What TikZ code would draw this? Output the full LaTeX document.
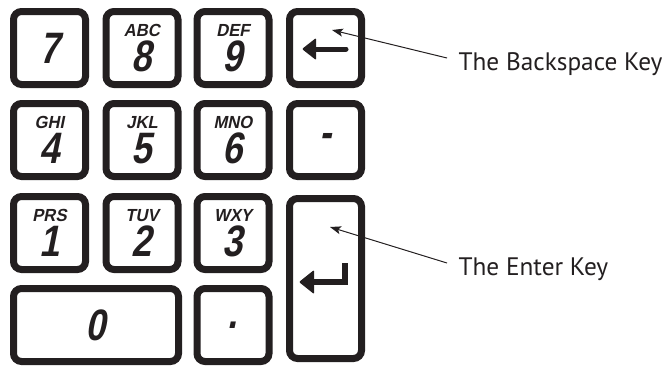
\documentclass[tikz,border=0pt]{standalone}
\usepackage{fontspec}
\setmainfont{PT Sans}
\newfontfamily\keyfont[FakeStretch=0.82,FakeSlant=0.2]{Liberation Sans}
\newfontfamily\abcfamily[FakeStretch=0.95,FakeSlant=0.2]{Liberation Sans}
\newcommand\abcfont{\abcfamily\bfseries\fontsize{17.5}{17.5}\selectfont}
\usetikzlibrary{arrows.meta}

\definecolor{ink}{HTML}{231F20}

\tikzset{
  keybox/.style={draw=ink, line width=7pt, rounded corners=8pt,
    minimum width=72pt, minimum height=73pt, inner sep=0pt, align=center,
    font=\keyfont\bfseries\fontsize{44}{43}\selectfont, text=ink},
  note/.style={font=\fontsize{25.3}{27}\selectfont, text=ink, anchor=west},
  callout/.style={draw=ink, line width=1pt, -{Stealth[length=11pt,width=8pt,inset=2.5pt]}},
}

\begin{document}
\begin{tikzpicture}[x=1pt, y=-1pt]
\useasboundingbox (0,0) rectangle (666,365);

% number keys
\foreach \name/\x/\y/\abc/\num in {k7/49.5/48//7, k8/142/48/ABC/8, k9/233/48/DEF/9,
    k4/49.5/140/GHI/4, k5/142/140/JKL/5, k6/233/140/MNO/6,
    k1/49.5/233/PRS/1, k2/142/233/TUV/2, k3/233/233/WXY/3}
{
  \ifx\abc\empty
    \node[keybox] (\name) at (\x,\y) {\num};
  \else
    \node[keybox] (\name) at (\x,\y) {{\abcfont\abc}\\[-8pt]\num};
  \fi
}

% bottom row and side keys
\node[keybox, minimum width=165pt] (k0) at (96,325) {0};
\node[keybox] (kdot) at (233,325) {.};
\node[keybox] (kbs) at (325.5,48) {};
\node[keybox] (kminus) at (325.5,140) {-};
\node[keybox, minimum height=160pt] (kenter) at (325.5,278.5) {};

% backspace symbol
\draw[ink, line width=5pt, line cap=round] (313,49) -- (346,49);
\fill[ink, rounded corners=1pt] (302,49) -- (316,38) -- (316,60) -- cycle;

% enter symbol
\draw[ink, line width=6pt] (313,282) -- (344.5,282) -- (344.5,263);
\fill[ink, rounded corners=1pt] (299,282) -- (314,270) -- (314,294) -- cycle;

% notes
\node[note] (bsnote) at (455,64) {The Backspace Key};
\node[note] (enternote) at (455,269) {The Enter Key};

\coordinate (bstip) at (332,30);
\coordinate (entertip) at (330,227);
\draw[callout] ([xshift=-8pt,yshift=6pt]bsnote.west) -- (bstip);
\draw[callout] ([xshift=-8pt,yshift=6pt]enternote.west) -- (entertip);
\end{tikzpicture}
\end{document}
